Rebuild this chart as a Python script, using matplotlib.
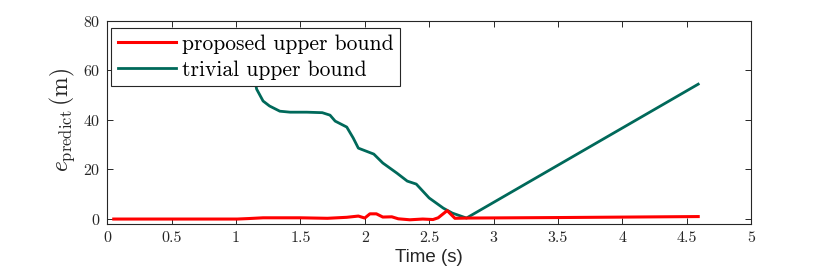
import matplotlib
matplotlib.use("Agg")
import matplotlib.pyplot as plt

# Data
t_trivial = [1.13, 1.16, 1.21, 1.26, 1.34, 1.42, 1.55, 1.67, 1.73, 1.77, 1.86, 1.91,
             1.95, 2.07, 2.14, 2.25, 2.33, 2.40, 2.50, 2.61, 2.68, 2.79, 4.59]
e_trivial = [60.0, 52.4, 47.6, 45.6, 43.5, 43.1, 43.1, 42.9, 41.9, 39.5, 37.1, 32.7,
             28.6, 26.2, 22.6, 18.5, 15.3, 14.1, 8.5, 4.4, 2.4, 0.4, 54.4]

t_proposed = [0.05, 1.01, 1.10, 1.21, 1.50, 1.71, 1.86, 1.95, 2.00, 2.04, 2.09, 2.14,
              2.21, 2.26, 2.35, 2.45, 2.53, 2.57, 2.64, 2.70, 2.80, 3.50, 4.59]
e_proposed = [0.0, 0.0, 0.2, 0.5, 0.5, 0.3, 0.7, 1.2, 0.4, 2.1, 2.1, 0.8,
              0.9, 0.1, -0.3, 0.0, -0.2, 0.5, 3.4, 0.3, 0.4, 0.6, 1.0]

x_ticks = [0, 0.5, 1, 1.5, 2, 2.5, 3, 3.5, 4, 4.5, 5]
x_ticklabels = ["0", "0.5", "1", "1.5", "2", "2.5", "3", "3.5", "4", "4.5", "5"]
y_ticks = [0, 20, 40, 60, 80]

plt.rcParams["font.family"] = "cmr10"
plt.rcParams["mathtext.fontset"] = "cm"
plt.rcParams["axes.formatter.use_mathtext"] = True

axis_col = "#262626"
green = "#00695a"

fig = plt.figure(figsize=(8.3, 2.77), dpi=100)
ax = fig.add_axes([107.3 / 830, 1 - 224 / 277, (751 - 107.3) / 830, (224 - 20.7) / 277])

ax.plot(t_proposed, e_proposed, color="red", lw=2.2, label="proposed upper bound", zorder=3)
ax.plot(t_trivial, e_trivial, color=green, lw=2.0, label="trivial upper bound", zorder=2)

ax.set_xlim(0, 5)
ax.set_ylim(-2, 80)
ax.set_xticks(x_ticks)
ax.set_xticklabels(x_ticklabels)
ax.set_yticks(y_ticks)

ax.tick_params(direction="in", length=4.5, width=0.7, top=True, right=True,
               labelsize=11.5, colors=axis_col, labelcolor=axis_col, pad=5)
for s in ax.spines.values():
    s.set_color(axis_col)
    s.set_linewidth(0.8)

ax.set_xlabel("Time (s)", family="Liberation Sans", fontsize=13.5, color=axis_col, labelpad=3)
ax.set_ylabel(r"$e_{\mathrm{predict}}\,(\mathrm{m})$", fontsize=17, color=axis_col)
ax.yaxis.set_label_coords(-0.047, 0.51)

leg = ax.legend(loc="upper left", bbox_to_anchor=(0.006, 0.964), borderaxespad=0,
                fontsize=15.5, handlelength=2.7, handletextpad=0.3, borderpad=0.3,
                labelspacing=0.3, fancybox=False, framealpha=1, edgecolor=axis_col)
leg.get_frame().set_linewidth(0.8)

fig.savefig("out.png", dpi=100)
